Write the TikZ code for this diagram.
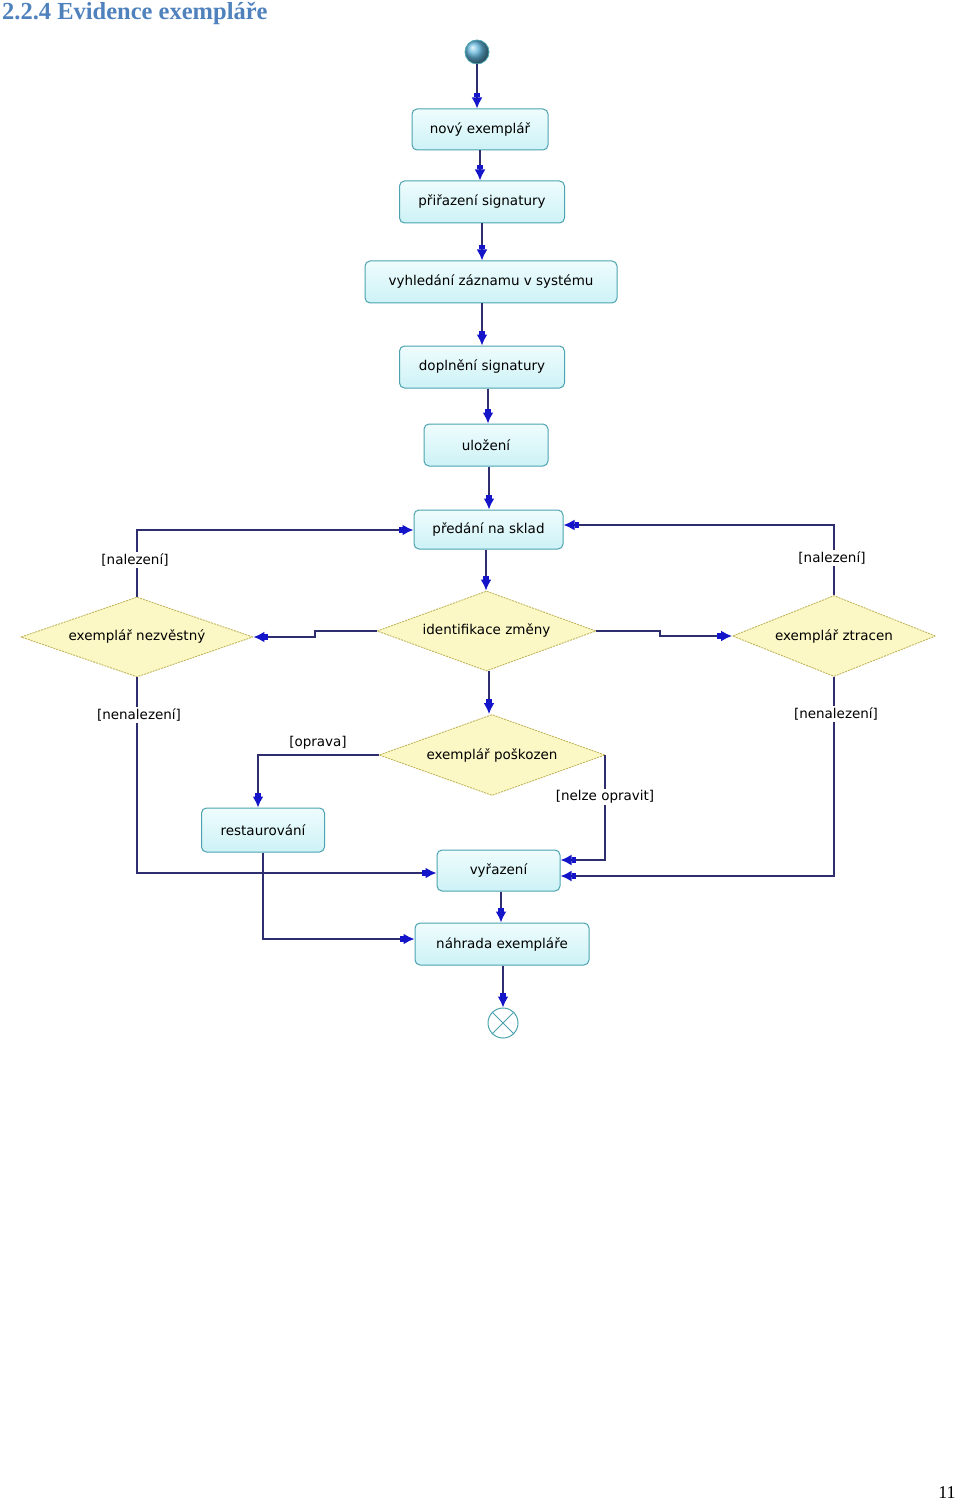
\documentclass[tikz,border=0pt]{standalone}
\usepackage{fontspec}
\setmainfont{Liberation Serif}
\newfontfamily\dgfont{DejaVu Sans}
\usetikzlibrary{shapes.geometric,arrows.meta,calc}
\definecolor{titleblue}{HTML}{4F81BD}
\definecolor{lineclr}{HTML}{2E2E6E}
\definecolor{tipclr}{HTML}{1414C8}
\definecolor{boxdraw}{HTML}{4BA3B0}
\definecolor{boxtop}{HTML}{EFFCFD}
\definecolor{boxbot}{HTML}{CDF2F6}
\definecolor{diafill}{HTML}{FBF8C6}
\definecolor{diadraw}{HTML}{C2B45A}
\definecolor{startball}{HTML}{62B6DC}
\tikzset{
  dgtext/.style={font=\dgfont\fontsize{13.5}{16}\selectfont},
  actbox/.style={dgtext, draw=boxdraw, line width=1pt, rounded corners=5pt, top color=boxtop, bottom color=boxbot, inner sep=0pt},
  decis/.style={dgtext, diamond, draw=diadraw, dashed, dash pattern=on 2pt off 1pt, line width=0.9pt, fill=diafill, inner sep=0pt},
  flow/.style={draw=lineclr, line width=2pt, -{Rectangle[length=4pt,width=6pt,fill=tipclr,color=tipclr] Latex[length=11pt,width=11pt,color=tipclr]}},
  guard/.style={dgtext, fill=white, inner sep=1.5pt},
}
\begin{document}
\begin{tikzpicture}[x=1pt,y=-1pt]
\useasboundingbox (0,0) rectangle (960,1503);
% title and page number
\node[anchor=west, text=titleblue, font=\bfseries\fontsize{24.5}{27}\selectfont, inner sep=0pt] (title) at (2,13) {2.2.4 Evidence exempláře};
\node[font=\fontsize{18}{20}\selectfont, inner sep=0pt] (pagenum) at (947,1493) {11};
% start and end
\node[circle, draw=boxdraw, line width=0.8pt, ball color=startball, minimum size=24pt, inner sep=0pt] (start) at (477,52) {};
\node[circle, draw=boxdraw, line width=1pt, fill=white, minimum size=30pt, inner sep=0pt] (end) at (503,1023) {};
\draw[boxdraw, line width=1pt] (end.north west) -- (end.south east) (end.north east) -- (end.south west);
% activities
\node[actbox, minimum width=136pt, minimum height=41pt] (nov) at (480,129.5) {nový exemplář};
\node[actbox, minimum width=165pt, minimum height=42pt] (pri) at (482,202) {přiřazení signatury};
\node[actbox, minimum width=252pt, minimum height=42pt] (vyh) at (491,282) {vyhledání záznamu v systému};
\node[actbox, minimum width=165pt, minimum height=42pt] (dop) at (482,367) {doplnění signatury};
\node[actbox, minimum width=124pt, minimum height=42pt] (ulo) at (486,445) {uložení};
\node[actbox, minimum width=149pt, minimum height=39pt] (pred) at (488.5,529.5) {předání na sklad};
\node[actbox, minimum width=123pt, minimum height=44pt] (rest) at (263,830) {restaurování};
\node[actbox, minimum width=123pt, minimum height=41pt] (vyr) at (498.5,870.5) {vyřazení};
\node[actbox, minimum width=174pt, minimum height=42pt] (nah) at (502,944) {náhrada exempláře};
% decisions
\node[decis, shape aspect=2.74, minimum width=219pt, minimum height=80pt] (ident) at (486.5,631) {identifikace změny};
\node[decis, shape aspect=2.9, minimum width=232pt, minimum height=80pt] (nez) at (137,637) {exemplář nezvěstný};
\node[decis, shape aspect=2.5, minimum width=203pt, minimum height=81pt] (ztr) at (834,636) {exemplář ztracen};
\node[decis, shape aspect=2.79, minimum width=226pt, minimum height=81pt] (posk) at (492,755) {exemplář poškozen};
% flows
\draw[flow] (start.south) -- (start.south |- nov.north);
\draw[flow] (nov.south) -- (nov.south |- pri.north);
\draw[flow] (pri.south) -- (pri.south |- vyh.north);
\draw[flow] ([xshift=-9pt]vyh.south) -- ([xshift=-9pt]vyh.south |- dop.north);
\draw[flow] ([xshift=6pt]dop.south) -- ([xshift=6pt]dop.south |- ulo.north);
\draw[flow] ([xshift=3pt]ulo.south) -- ([xshift=3pt]ulo.south |- pred.north);
\draw[flow] ([xshift=-2.5pt]pred.south) -- ([xshift=-2.5pt]pred.south |- ident.north);
\draw[flow] (ident.west) -- ++(-62,0) |- (nez.east);
\draw[flow] (ident.east) -- ++(64,0) |- (ztr.west);
\draw[flow] (nez.north) |- ([yshift=-0.5pt]pred.west);
\draw[flow] (ztr.north) |- ([yshift=4.5pt]pred.east);
\draw[flow] ([xshift=2.5pt]ident.south) -- ([xshift=2.5pt]ident.south |- posk.north);
\draw[flow] (posk.west) -| ([xshift=-5pt]rest.north);
\draw[flow] (posk.east) |- ([yshift=10.5pt]vyr.east);
\draw[flow] (ztr.south) |- ([yshift=-5.5pt]vyr.east);
\draw[flow] (nez.south) |- ([yshift=-2.5pt]vyr.west);
\draw[flow] (rest.south) |- ([yshift=5pt]nah.west);
\draw[flow] ([xshift=2.5pt]vyr.south) -- ([xshift=2.5pt]vyr.south |- nah.north);
\draw[flow] ([xshift=1pt]nah.south) -- ([xshift=1pt]nah.south |- end.north);
% guards
\node[guard] (g1) at (135,560) {[nalezení]};
\node[guard] (g2) at (832,558) {[nalezení]};
\node[guard] (g3) at (139,715) {[nenalezení]};
\node[guard] (g4) at (836,714) {[nenalezení]};
\node[guard, fill=none] (g5) at (318,743) {[oprava]};
\node[guard] (g6) at (605,797) {[nelze opravit]};
\end{tikzpicture}
\end{document}
